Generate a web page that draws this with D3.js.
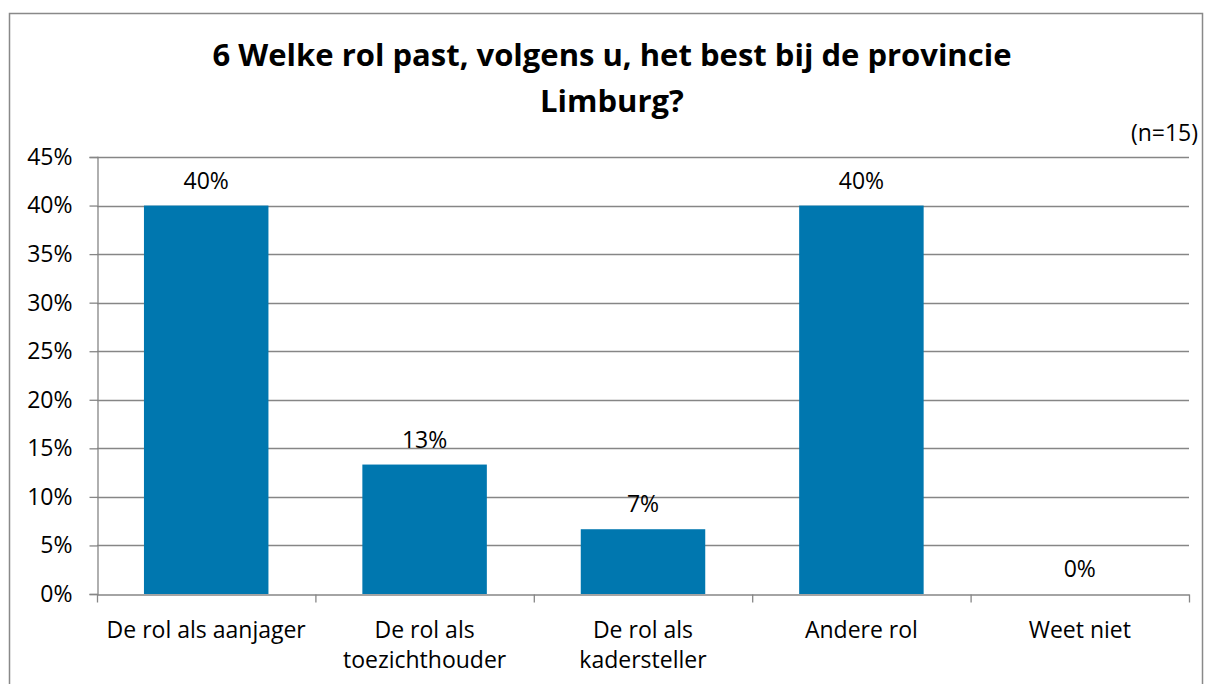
<!DOCTYPE html>
<html><head><meta charset="utf-8">
<script src="https://cdn.jsdelivr.net/npm/d3@7"></script>
<style>body{margin:0;background:#fff}svg{display:block}text{font-family:"Open Sans",sans-serif;fill:#000}</style>
</head><body><svg id="c" width="1205" height="684"></svg>
<script>
const categories = [["De rol als aanjager"],["De rol als","toezichthouder"],["De rol als","kadersteller"],["Andere rol"],["Weet niet"]];
const values = [0.40, 0.1333, 0.0667, 0.40, 0];
const valueLabels = ["40%","13%","7%","40%","0%"];
const yTicks = [0,0.05,0.10,0.15,0.20,0.25,0.30,0.35,0.40,0.45];
const titleLines = ["6 Welke rol past, volgens u, het best bij de provincie","Limburg?"];
const note = "(n=15)";

const svg = d3.select("#c");
svg.append("rect").attr("x",9.5).attr("y",13.5).attr("width",1193).attr("height",690)
  .attr("fill","none").attr("stroke","#898989").attr("stroke-width",1.5);

const L=97,R=1189,T=157,B=594;
const x = d3.scaleBand().domain(d3.range(categories.length)).range([L,R]).paddingInner(0.43).paddingOuter(0.215);
const xb = d3.scaleLinear().domain([0,categories.length]).range([L,R]);
const y = d3.scaleLinear().domain([0,0.45]).range([B,T]);

svg.append("g").selectAll("line").data(yTicks.filter(d=>d>0)).join("line")
  .attr("x1",L).attr("x2",R).attr("y1",d=>Math.round(y(d))+0.5).attr("y2",d=>Math.round(y(d))+0.5)
  .attr("stroke","#868686").attr("stroke-width",1.3);

svg.append("g").selectAll("rect").data(values).join("rect")
  .attr("x",(d,i)=>x(i)).attr("width",x.bandwidth())
  .attr("y",d=>y(d)).attr("height",d=>B-y(d)).attr("fill","#0077AF");

const ya = svg.append("g").attr("transform",`translate(${L+0.5},0)`)
  .call(d3.axisLeft(y).tickValues(yTicks).tickFormat(d3.format(".0%")).tickSize(8).tickPadding(17));
ya.select(".domain").attr("stroke","#868686").attr("stroke-width",1.3);
ya.selectAll(".tick line").attr("stroke","#868686").attr("stroke-width",1.3);
ya.selectAll(".tick text").attr("font-size",23).attr("font-family","Open Sans").attr("fill","#000");

const xa = svg.append("g").attr("transform",`translate(0,${B+0.5})`)
  .call(d3.axisBottom(xb).tickValues(d3.range(categories.length+1)).tickFormat("").tickSize(8).tickSizeOuter(0));
xa.select(".domain").attr("stroke","#868686").attr("stroke-width",1.3);
xa.selectAll(".tick line").attr("stroke","#868686").attr("stroke-width",1.3);

const xl = svg.append("g").selectAll("text").data(categories).join("text")
  .attr("text-anchor","middle").attr("font-size",23)
  .attr("x",(d,i)=>x(i)+x.bandwidth()/2).attr("y",638);
xl.selectAll("tspan").data(d=>d).join("tspan")
  .attr("x",function(){return this.parentNode.getAttribute("x");})
  .attr("dy",(d,i)=>i?30:0).text(d=>d);

svg.append("g").selectAll("text").data(values).join("text")
  .attr("text-anchor","middle").attr("font-size",23)
  .attr("x",(d,i)=>x(i)+x.bandwidth()/2).attr("y",d=>y(d)-17).text((d,i)=>valueLabels[i]);

svg.append("text").attr("text-anchor","middle").attr("font-size",31).attr("font-weight","bold")
  .selectAll("tspan").data(titleLines).join("tspan")
  .attr("x",612).attr("y",(d,i)=>66+i*46).text(d=>d);

svg.append("text").attr("text-anchor","end").attr("font-size",23).attr("x",1198).attr("y",141).text(note);
</script></body></html>
